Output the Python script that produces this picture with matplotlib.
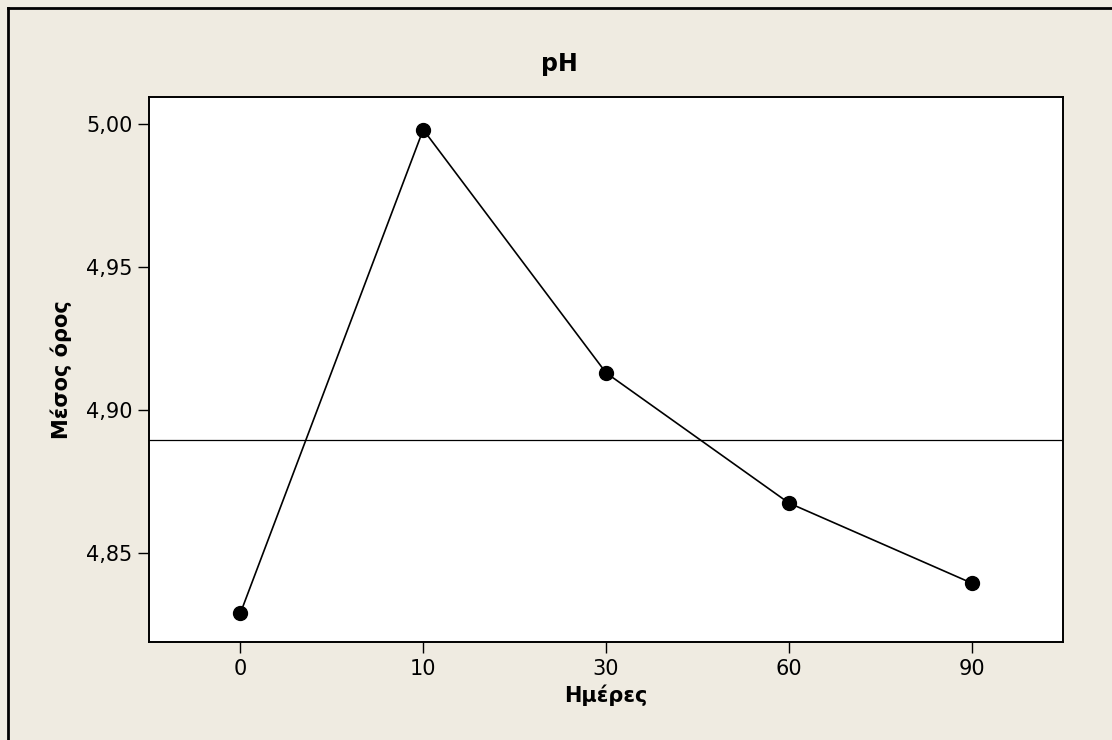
import numpy as np
import matplotlib
matplotlib.use("Agg")
import matplotlib.pyplot as plt
from matplotlib.ticker import FuncFormatter, FixedLocator
from matplotlib.lines import Line2D

# mean pH per sampling day
days = ["0", "10", "30", "60", "90"]
ph_means = [4.829, 4.998, 4.913, 4.8675, 4.8395]
y_ticks = [4.85, 4.90, 4.95, 5.00]

plt.rcParams['font.family'] = ['DejaVu Sans']

bg = "#EFEBE1"
W, H = 1112, 740
fig = plt.figure(figsize=(W / 100, H / 100), dpi=100, facecolor=bg)
ax = fig.add_axes([0.134, 0.1324, 0.822, 0.7365])
ax.set_facecolor("white")

x = np.arange(len(days))
ax.plot(x, ph_means, color="black", linewidth=1.2, marker="o",
        markersize=10, markerfacecolor="black", markeredgecolor="black", zorder=3)
ax.axhline(np.mean(ph_means), color="black", linewidth=0.9, zorder=2)

ax.set_xlim(-0.5, len(days) - 0.5)
ax.set_ylim(4.8189, 5.0094)
ax.set_xticks(x)
ax.set_xticklabels(days)
ax.yaxis.set_major_locator(FixedLocator(y_ticks))
ax.yaxis.set_major_formatter(FuncFormatter(lambda v, _: f"{v:.2f}".replace(".", ",")))

for side in ax.spines.values():
    side.set_linewidth(1.4)
    side.set_color("black")
ax.tick_params(direction="out", length=8, width=1, labelsize=15, pad=4, colors="black")

# title sits over the whole figure, not the axes
fig.text(0.503, 1 - 64 / H, "pH", fontsize=17, fontweight="bold", ha="center", va="center")
ax.set_xlabel("Ημέρες", fontsize=15, fontweight="bold", labelpad=4)
ax.set_ylabel("Μέσος όρος", fontsize=15, fontweight="bold", labelpad=10)

# outer frame, only top and left edges are visible
fig.add_artist(Line2D([8 / W, 1.0], [1 - 8 / H, 1 - 8 / H], color="black", linewidth=2,
                      transform=fig.transFigure))
fig.add_artist(Line2D([8 / W, 8 / W], [0.0, 1 - 8 / H], color="black", linewidth=2,
                      transform=fig.transFigure))

fig.savefig("out.png", dpi=100, facecolor=bg)
